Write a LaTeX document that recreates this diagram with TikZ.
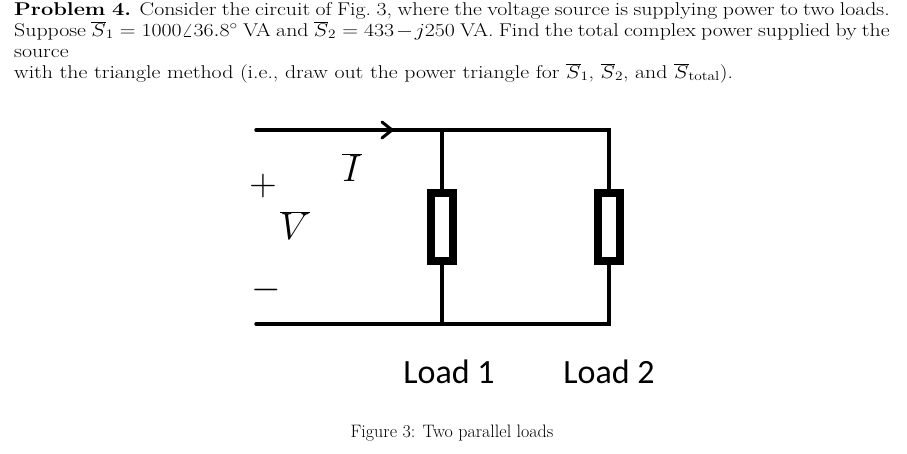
\RequirePackage{fix-cm}
\documentclass[tikz,border=0pt]{standalone}
\usepackage{graphicx}
\usepackage{fontspec}
\newfontfamily\loadfont{Carlito}
\begin{document}
\begin{tikzpicture}[x=1pt,y=-1pt,
  wire/.style={line width=3.5pt,line cap=round},
  res/.style={draw,line width=8pt,minimum width=22pt,minimum height=68pt,inner sep=0pt,fill=white},
  sym/.style={font=\fontsize{38}{38}\selectfont}]
\useasboundingbox (0,0) rectangle (907,453);
\node[anchor=north west,inner sep=0pt] (txt) at (14,2)
 {\scalebox{1.18}[1]{\parbox{742pt}{\fontsize{18.5}{21}\selectfont\noindent \textbf{Problem 4.} Consider the circuit of Fig.\ 3, where the voltage source is supplying power to two loads.\linebreak Suppose $\overline{S}_1=1000\angle36.8^\circ$ VA and $\overline{S}_2=433-j250$ VA. Find the total complex power supplied by the source\linebreak with the triangle method (i.e., draw out the power triangle for $\overline{S}_1$, $\overline{S}_2$, and $\overline{S}_{\mathrm{total}}$).}}};
\coordinate (tl) at (256,130);
\coordinate (a) at (442,130);
\coordinate (tr) at (609,130);
\coordinate (bl) at (256,324);
\coordinate (b) at (442,324);
\coordinate (br) at (609,324);
\coordinate (arr) at (392,130);
\node[res] (r1) at (442,227) {};
\node[res] (r2) at (609,227) {};
\draw[wire] (tl) -- (tr) -- (r2.north);
\draw[wire] (r2.south) -- (br) -- (bl);
\draw[wire] (a) -- (r1.north);
\draw[wire] (r1.south) -- (b);
\draw[line width=3pt,line cap=round,line join=round] (382,122) -- (arr) -- (382,138);
\node[sym] (I) at (352,168) {$\overline{I}$};
\node[sym] (p) at (263,186) {$+$};
\node[sym] (V) at (295,226) {$\overline{V}$};
\node[sym] (m) at (266,290) {$-$};
\node[font=\loadfont\fontsize{34}{34}\selectfont] (l1) at (449,372) {Load 1};
\node[font=\loadfont\fontsize{34}{34}\selectfont] (l2) at (609,372) {Load 2};
\node[font=\fontsize{18}{20}\selectfont] (cap) at (452,433) {Figure 3: Two parallel loads};
\end{tikzpicture}
\end{document}
